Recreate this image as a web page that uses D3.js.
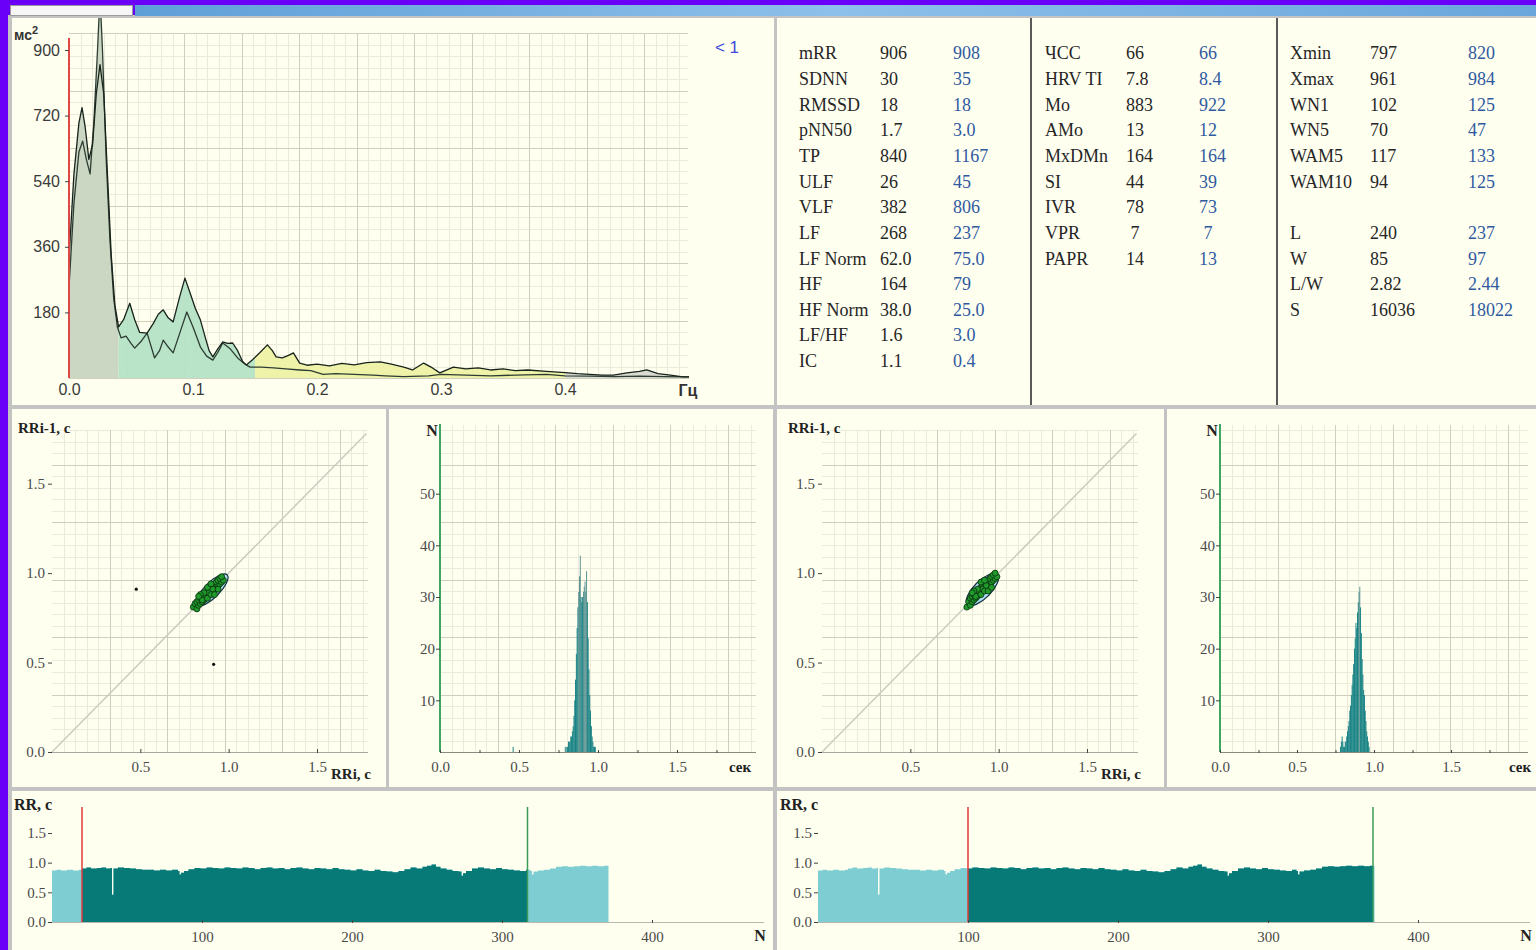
<!DOCTYPE html>
<html><head><meta charset="utf-8">
<script src="https://cdn.jsdelivr.net/npm/d3@7"></script>
<style>body{margin:0;background:#6a00f8;overflow:hidden}svg{display:block}</style>
</head><body><svg id="c" width="1536" height="950"></svg>
<script>
// ---------------- DATA ----------------
// Spectrum, record 1 (frequency Hz, power ms^2)
const specFreq1 = [0,0.004,0.008,0.0105,0.013,0.016,0.019,0.022,0.025,0.028,0.031,0.034,0.037,0.040,0.044,0.049,0.053,0.057,0.063,0.068,0.072,0.076,0.080,0.084,0.089,0.0935,0.098,0.102,0.106,0.110,0.113,0.116,0.120,0.124,0.128,0.132,0.136,0.140,0.143,0.148,0.154,0.160,0.164,0.167,0.172,0.177,0.181,0.186,0.192,0.200,0.210,0.220,0.230,0.240,0.251,0.260,0.270,0.277,0.286,0.292,0.299,0.310,0.320,0.330,0.340,0.350,0.360,0.370,0.385,0.400,0.410,0.420,0.430,0.439,0.450,0.460,0.466,0.475,0.485,0.495,0.5];
const specPow1  = [330,560,700,742,690,600,640,780,860,780,560,340,200,140,160,205,160,125,123,150,175,187,165,154,220,274,230,190,159,110,75,58,80,99,95,96,75,45,36,50,70,91,75,58,55,62,69,41,35,38,33,40,36,42,44,38,30,22,41,30,14,30,25,28,22,25,20,22,18,15,12,10,8,8,14,18,22,12,8,3,3];
// Spectrum, record 2
const specFreq2 = [0,0.004,0.008,0.011,0.014,0.017,0.020,0.023,0.025,0.027,0.030,0.033,0.036,0.039,0.042,0.046,0.050,0.053,0.058,0.063,0.069,0.073,0.076,0.080,0.084,0.090,0.095,0.100,0.106,0.111,0.116,0.120,0.124,0.130,0.136,0.142,0.146,0.155,0.165,0.175,0.186,0.195,0.205,0.215,0.230,0.245,0.255,0.270,0.290,0.300,0.320,0.340,0.360,0.385,0.400,0.420,0.440,0.460,0.480,0.500];
const specPow2  = [250,480,620,650,600,560,700,900,1050,900,600,380,220,140,110,115,95,82,100,123,55,75,104,85,69,130,181,140,85,60,49,70,96,80,55,38,30,30,28,25,22,20,10,12,10,8,6,4,6,10,8,6,8,10,6,5,4,5,4,3];
const bandEdges  = [0, 0.04, 0.15, 0.4, 0.5];
const bandColors = ['#c8d5c0', '#b5e3c5', '#eef1a4', '#d8dacf'];
const specYTicks = [180, 360, 540, 720, 900];
const specXTicks = [0, 0.1, 0.2, 0.3, 0.4];

// Table of indices
const tableLabels1 = ['mRR','SDNN','RMSSD','pNN50','TP','ULF','VLF','LF','LF Norm','HF','HF Norm','LF/HF','IC'];
const tableRec1a   = ['906','30','18','1.7','840','26','382','268','62.0','164','38.0','1.6','1.1'];
const tableRec2a   = ['908','35','18','3.0','1167','45','806','237','75.0','79','25.0','3.0','0.4'];
const tableLabels2 = ['ЧСС','HRV TI','Mo','AMo','MxDMn','SI','IVR','VPR','PAPR'];
const tableRec1b   = ['66','7.8','883','13','164','44','78',' 7','14'];
const tableRec2b   = ['66','8.4','922','12','164','39','73',' 7','13'];
const tableLabels3 = ['Xmin','Xmax','WN1','WN5','WAM5','WAM10','','L','W','L/W','S'];
const tableRec1c   = ['797','961','102','70','117','94','','240','85','2.82','16036'];
const tableRec2c   = ['820','984','125','47','133','125','','237','97','2.44','18022'];

// RR interval series (beat number, seconds) – one recording, two analysis windows
const rrBeat  = [0,3,6,10,14,18,20,23,26,30,33,36,39,40,41,44,48,52,56,60,64,68,72,76,80,84,85,86,88,91,95,99,103,107,111,115,119,123,127,131,135,139,143,147,151,155,159,163,167,171,175,179,183,187,191,195,199,203,207,211,215,219,223,227,231,235,239,243,247,250,253,256,259,263,267,271,273,274,276,280,284,288,292,296,300,304,308,312,316,319,320,321,324,328,332,336,340,344,348,352,356,360,364,368,371];
const rrValue = [0.87,0.88,0.87,0.88,0.87,0.88,0.90,0.92,0.90,0.91,0.92,0.90,0.91,0.46,0.90,0.92,0.91,0.90,0.89,0.88,0.88,0.87,0.88,0.87,0.88,0.86,0.80,0.83,0.86,0.89,0.91,0.90,0.92,0.91,0.90,0.92,0.91,0.90,0.92,0.91,0.89,0.91,0.92,0.90,0.91,0.89,0.91,0.92,0.90,0.89,0.91,0.90,0.89,0.91,0.89,0.88,0.87,0.89,0.87,0.86,0.88,0.86,0.85,0.84,0.86,0.89,0.92,0.90,0.93,0.95,0.97,0.93,0.90,0.88,0.86,0.85,0.78,0.82,0.86,0.90,0.92,0.90,0.89,0.91,0.89,0.88,0.87,0.86,0.88,0.86,0.80,0.85,0.87,0.88,0.90,0.93,0.94,0.93,0.94,0.95,0.94,0.95,0.94,0.95,0.95];
const window1 = [20, 317];
const window2 = [100, 370];
const rrYTicks = [0, 0.5, 1.0, 1.5];
const rrXTicks = [100, 200, 300, 400];

// Histograms of RR (bin start s, count), bin width 0.005 s
const histBin1   = [0.460,0.790,0.795,0.800,0.805,0.810,0.815,0.820,0.825,0.830,0.835,0.840,0.845,0.850,0.855,0.860,0.865,0.870,0.875,0.880,0.885,0.890,0.895,0.900,0.905,0.910,0.915,0.920,0.925,0.930,0.935,0.940,0.945,0.950,0.955,0.960,0.965,0.970,0.975,0.980];
const histCount1 = [1,1,0,1,1,2,2,2,3,3,4,5,7,10,14,19,24,28,31,34,38,30,29,30,31,32,33,31,35,29,22,16,11,8,5,3,2,1,1,1];
const histBin2   = [0.780,0.785,0.790,0.795,0.800,0.805,0.810,0.815,0.820,0.825,0.830,0.835,0.840,0.845,0.850,0.855,0.860,0.865,0.870,0.875,0.880,0.885,0.890,0.895,0.900,0.905,0.910,0.915,0.920,0.925,0.930,0.935,0.940,0.945,0.950,0.955,0.960,0.965];
const histCount2 = [1,2,3,2,1,1,2,2,3,4,5,6,8,9,11,13,15,17,20,22,25,24,27,29,31,32,28,23,18,15,12,11,8,6,4,3,2,1];
const histYTicks = [10, 20, 30, 40, 50];
const histXTicks = [0, 0.25, 0.5, 0.75, 1.0, 1.25, 1.5, 1.75];

// Poincaré scatter (RRi, RRi-1) in seconds
const poincare1 = [[0.80,0.81],[0.81,0.83],[0.82,0.80],[0.83,0.82],[0.82,0.84],[0.84,0.83],[0.83,0.85],[0.85,0.84],[0.84,0.86],[0.86,0.85],[0.85,0.87],[0.87,0.86],[0.86,0.88],[0.88,0.87],[0.87,0.89],[0.89,0.88],[0.88,0.90],[0.90,0.89],[0.89,0.91],[0.91,0.90],[0.90,0.92],[0.92,0.91],[0.91,0.93],[0.93,0.92],[0.92,0.94],[0.94,0.93],[0.93,0.95],[0.95,0.94],[0.94,0.96],[0.96,0.95],[0.95,0.97],[0.97,0.96],[0.96,0.98],[0.87,0.87],[0.89,0.89],[0.91,0.91],[0.85,0.85],[0.88,0.86],[0.90,0.88],[0.86,0.89],[0.84,0.88],[0.92,0.88],[0.88,0.92],[0.94,0.91],[0.83,0.87],[0.90,0.94]];
const outliers1 = [[0.477,0.91],[0.915,0.49]];
const poincare2 = [[0.82,0.81],[0.83,0.84],[0.84,0.82],[0.85,0.84],[0.84,0.86],[0.86,0.85],[0.85,0.87],[0.87,0.86],[0.86,0.88],[0.88,0.87],[0.87,0.89],[0.89,0.88],[0.88,0.90],[0.90,0.89],[0.89,0.91],[0.91,0.90],[0.90,0.92],[0.92,0.91],[0.91,0.93],[0.93,0.92],[0.92,0.94],[0.94,0.93],[0.93,0.95],[0.95,0.94],[0.94,0.96],[0.96,0.95],[0.95,0.97],[0.97,0.96],[0.96,0.98],[0.98,0.97],[0.97,0.99],[0.99,0.98],[0.98,1.0],[0.89,0.89],[0.91,0.91],[0.93,0.93],[0.87,0.87],[0.90,0.88],[0.92,0.90],[0.88,0.91],[0.86,0.90],[0.94,0.90],[0.90,0.95],[0.96,0.92],[0.85,0.89],[0.92,0.96]];
const poiTicks = [0.5, 1.0, 1.5];
const poiYTicks = [0, 0.5, 1.0, 1.5];

// ---------------- DRAWING ----------------
const SANS = "'Liberation Sans', Arial, sans-serif";
const SERIF = "'Liberation Serif', 'Times New Roman', serif";
const IVORY = '#fffff0';
const svg = d3.select('#c');
const defs = svg.append('defs');

svg.append('rect').attr('width',1536).attr('height',950).attr('fill','#6a00f8');
svg.append('rect').attr('x',8).attr('y',15).attr('width',1528).attr('height',935).attr('fill','#c3c3c3');
const grad = defs.append('linearGradient').attr('id','tb').attr('x1',0).attr('x2',1);
grad.append('stop').attr('offset',0).attr('stop-color','#5f9fd8');
grad.append('stop').attr('offset',0.5).attr('stop-color','#8dc0ea');
grad.append('stop').attr('offset',1).attr('stop-color','#6aa6dc');
svg.append('rect').attr('x',135).attr('y',5).attr('width',1401).attr('height',11).attr('fill','url(#tb)');
svg.append('rect').attr('x',10.5).attr('y',5.5).attr('width',122).attr('height',10).attr('fill','#f6f6f6').attr('stroke','#9a9a9a');

const panels = [[12,18,762,387],[777,18,759,387],[12,409,374,378],[389,409,384,378],[777,409,387,378],[1167,409,369,378],[12,791,761,159],[777,791,759,159]];
svg.selectAll('rect.panel').data(panels).join('rect').attr('class','panel')
  .attr('x',d=>d[0]).attr('y',d=>d[1]).attr('width',d=>d[2]).attr('height',d=>d[3]).attr('fill',IVORY);

function grid(g, x0, x1, yT, yB){
  const step = 57.5, m = step/5;
  const minors = g.append('g').attr('stroke','#ecebd9').attr('stroke-width',1);
  const majors = g.append('g').attr('stroke','#cfcfbd').attr('stroke-width',1);
  for(let k=1; x0+k*m<=x1+0.5; k++){
    const x = Math.round(x0+k*m)+0.5;
    (k%5===0?majors:minors).append('line').attr('x1',x).attr('x2',x).attr('y1',yT).attr('y2',yB);
  }
  for(let k=1; yB-k*m>=yT-0.5; k++){
    const y = Math.round(yB-k*m)+0.5;
    (k%5===0?majors:minors).append('line').attr('x1',x0).attr('x2',x1).attr('y1',y).attr('y2',y);
  }
}
function styleAxis(g, font, size, color){
  g.select('.domain').remove();
  g.selectAll('text').attr('font-family',font).attr('font-size',size).attr('fill',color);
  g.selectAll('line').attr('stroke','#444');
}

// ---- Spectrum ----
{
  const g = svg.append('g');
  const x = d3.scaleLinear([0,0.5],[69,689]);
  const y = d3.scaleLinear([0,900],[378,50]);
  grid(g, 69, 688, 33, 378);
  g.append('line').attr('x1',69).attr('x2',689).attr('y1',378.5).attr('y2',378.5).attr('stroke','#cfcfbd');
  defs.append('clipPath').attr('id','specClip').append('rect').attr('x',69).attr('y',18).attr('width',620).attr('height',360);
  const recs = [d3.zip(specFreq1,specPow1), d3.zip(specFreq2,specPow2)];
  // upper envelope of both spectra (linear interpolation at every measured frequency)
  const interp = (r,f)=>{ const i = d3.bisector(d=>d[0]).right(r,f); if(i<=0) return r[0][1]; if(i>=r.length) return r[r.length-1][1];
    const a=r[i-1], b=r[i]; return a[1]+(b[1]-a[1])*(f-a[0])/(b[0]-a[0]); };
  const freqs = Array.from(new Set(specFreq1.concat(specFreq2))).sort((a,b)=>a-b);
  const env = freqs.map(f=>[f, Math.max(interp(recs[0],f), interp(recs[1],f))]);
  const area = d3.area().x(d=>x(d[0])).y0(y(0)).y1(d=>y(d[1]));
  const line = d3.line().x(d=>x(d[0])).y(d=>y(d[1]));
  const plot = g.append('g').attr('clip-path','url(#specClip)');
  bandColors.forEach((c,i)=>{
    const id='band'+i;
    defs.append('clipPath').attr('id',id).append('rect')
      .attr('x',x(bandEdges[i])).attr('y',0).attr('width',x(bandEdges[i+1])-x(bandEdges[i])).attr('height',400);
    plot.append('path').attr('clip-path','url(#'+id+')').attr('d',area(env)).attr('fill',c).attr('opacity',0.95);
  });
  plot.append('path').attr('d',line(recs[1])).attr('fill','none').attr('stroke','#2d3d33').attr('stroke-width',1.3).attr('stroke-linejoin','round');
  plot.append('path').attr('d',line(recs[0])).attr('fill','none').attr('stroke','#17231b').attr('stroke-width',1.3).attr('stroke-linejoin','round');
  g.append('line').attr('x1',x(0)).attr('x2',x(0)).attr('y1',38).attr('y2',378).attr('stroke','#e04848').attr('stroke-width',2);
  const ya = g.append('g').attr('transform','translate(69,0)')
    .call(d3.axisLeft(y).tickValues(specYTicks).tickSize(4).tickPadding(5).tickFormat(d3.format('d')));
  styleAxis(ya, SANS, 16, '#3a3a3a');
  const xa = g.append('g').attr('transform','translate(0,378)')
    .call(d3.axisBottom(x).tickValues(specXTicks).tickSize(0).tickPadding(6).tickFormat(d3.format('.1f')));
  styleAxis(xa, SANS, 16, '#3a3a3a');
  g.append('text').attr('x',14).attr('y',40).attr('font-family',SANS).attr('font-size',14).attr('font-weight','bold').attr('fill','#333')
    .text('мс').append('tspan').attr('dy',-6).attr('font-size',11).text('2');
  g.append('text').attr('x',688).attr('y',396).attr('text-anchor','middle').attr('font-family',SANS).attr('font-size',16).attr('font-weight','bold').attr('fill','#333').text('Гц');
  g.append('text').attr('x',727).attr('y',53).attr('text-anchor','middle').attr('font-family',SANS).attr('font-size',17).attr('fill','#3b4ad8').text('< 1');
}

// ---- Table ----
{
  const g = svg.append('g').attr('font-family',SERIF).attr('font-size',18);
  const blocks = [
    [tableLabels1, tableRec1a, tableRec2a, 799, 880, 953],
    [tableLabels2, tableRec1b, tableRec2b, 1045, 1126, 1199],
    [tableLabels3, tableRec1c, tableRec2c, 1290, 1370, 1468]
  ];
  blocks.forEach(([labs,a,b,x0,x1,x2])=>{
    labs.forEach((lab,i)=>{
      const yy = 53 + i*25.65;
      g.append('text').attr('x',x0).attr('y',yy).attr('dy','0.35em').attr('fill','#262626').text(lab);
      g.append('text').attr('x',x1).attr('y',yy).attr('dy','0.35em').attr('fill','#262626').attr('xml:space','preserve').text(a[i]);
      g.append('text').attr('x',x2).attr('y',yy).attr('dy','0.35em').attr('fill','#2f5aa0').attr('xml:space','preserve').text(b[i]);
    });
  });
  [1031, 1277].forEach(xx=>svg.append('line').attr('x1',xx).attr('x2',xx).attr('y1',18).attr('y2',405).attr('stroke','#5a5a5a').attr('stroke-width',2));
}

// ---- Poincaré ----
function poincare(x0, pts, outl, rec){
  const g = svg.append('g');
  const x = d3.scaleLinear([0,1.8],[x0, x0+318]);
  const y = d3.scaleLinear([0,1.8],[752, 430]);
  grid(g, x0, x0+316, 430, 752);
  g.append('line').attr('x1',x0).attr('x2',x0+316).attr('y1',752.5).attr('y2',752.5).attr('stroke','#a8a8a0');
  g.append('line').attr('x1',x(0)).attr('y1',y(0)).attr('x2',x(1.78)).attr('y2',y(1.78)).attr('stroke','#cbcbc0').attr('stroke-width',1.5);
  const li = tableLabels3.indexOf('L'), wi = tableLabels3.indexOf('W');
  const L = +rec.c[li]/1000, Wd = +rec.c[wi]/1000, m = +rec.a[0]/1000;
  const k = ((x(1)-x(0)) + (y(0)-y(1)))/2;
  g.append('ellipse').attr('transform',`translate(${x(m)},${y(m)}) rotate(-45)`)
    .attr('rx',L/2*k).attr('ry',Wd/2*k).attr('fill','#a9dcf0').attr('stroke','#12303a').attr('stroke-width',1.2);
  g.selectAll('circle.p').data(pts).join('circle').attr('class','p')
    .attr('cx',d=>x(d[0])).attr('cy',d=>y(d[1])).attr('r',3).attr('fill','#1f9a2b').attr('stroke','#0a2e0e').attr('stroke-width',0.8);
  g.selectAll('circle.o').data(outl).join('circle').attr('class','o')
    .attr('cx',d=>x(d[0])).attr('cy',d=>y(d[1])).attr('r',1.6).attr('fill','#111');
  const ya = g.append('g').attr('transform',`translate(${x0},0)`)
    .call(d3.axisLeft(y).tickValues(poiYTicks).tickSize(4).tickPadding(3).tickFormat(d3.format('.1f')));
  styleAxis(ya, SERIF, 15, '#4a4a4a');
  const xa = g.append('g').attr('transform','translate(0,752)')
    .call(d3.axisBottom(x).tickValues(poiTicks).tickSize(4).tickPadding(5).tickFormat(d3.format('.1f')));
  styleAxis(xa, SERIF, 15, '#4a4a4a');
  xa.selectAll('line').attr('transform','translate(0,-3)');
  g.append('text').attr('x',x0-34).attr('y',433).attr('font-family',SERIF).attr('font-size',15).attr('font-weight','bold').attr('fill','#222').text('RRi-1, с');
  g.append('text').attr('x',x0+279).attr('y',779).attr('font-family',SERIF).attr('font-size',15).attr('font-weight','bold').attr('fill','#222').text('RRi, с');
}
poincare(52, poincare1, outliers1, {a:tableRec1a, c:tableRec1c});
poincare(822, poincare2, [], {a:tableRec2a, c:tableRec2c});

// ---- Histograms ----
function histogram(x0, x1, bins, counts){
  const g = svg.append('g');
  const x = d3.scaleLinear([0,2.0],[x0, x1]);
  const y = d3.scaleLinear([0,60],[752, 442]);
  grid(g, x0, x1, 425, 752);
  g.append('line').attr('x1',x0).attr('x2',x1).attr('y1',752.5).attr('y2',752.5).attr('stroke','#8a8a80');
  const data = d3.zip(bins, counts);
  g.selectAll('rect.b').data(data).join('rect').attr('class','b')
    .attr('x',d=>x(d[0])).attr('width',d=>Math.max(0.9, x(d[0]+0.005)-x(d[0])))
    .attr('y',d=>y(d[1])).attr('height',d=>y(0)-y(d[1]))
    .attr('fill',d=>d[1]>30?'#4f8c8c':'#0a7b7e');
  g.append('line').attr('x1',x0).attr('x2',x0).attr('y1',424).attr('y2',752).attr('stroke','#3fa562').attr('stroke-width',2);
  const ya = g.append('g').attr('transform',`translate(${x0},0)`)
    .call(d3.axisLeft(y).tickValues(histYTicks).tickSize(4).tickPadding(1).tickFormat(d3.format('d')));
  styleAxis(ya, SERIF, 15, '#4a4a4a');
  const xa = g.append('g').attr('transform','translate(0,752)')
    .call(d3.axisBottom(x).tickValues(histXTicks).tickSize(3).tickPadding(6)
      .tickFormat(d=>([0,0.5,1.0,1.5].includes(d)? d3.format('.1f')(d):'')));
  styleAxis(xa, SERIF, 15, '#4a4a4a');
  xa.selectAll('line').attr('transform','translate(0,-2)');
  g.append('text').attr('x',x0-8).attr('y',436).attr('text-anchor','middle').attr('font-family',SERIF).attr('font-size',16).attr('font-weight','bold').attr('fill','#222').text('N');
  g.append('text').attr('x',x0+300).attr('y',772).attr('text-anchor','middle').attr('font-family',SERIF).attr('font-size',15).attr('font-weight','bold').attr('fill','#222').text('сек');
}
histogram(440, 756, histBin1, histCount1);
histogram(1220, 1528, histBin2, histCount2);

// ---- RR series ----
function rrChart(x0, win, idx){
  const g = svg.append('g');
  const x = d3.scaleLinear([0,100],[x0, x0+150]);
  const y = d3.scaleLinear([0,1.5],[922, 833]);
  const data = d3.zip(rrBeat, rrValue);
  const area = d3.area().x(d=>x(d[0])).y0(y(0)).y1(d=>y(d[1])).curve(d3.curveStepAfter);
  g.append('path').attr('d',area(data)).attr('fill','#7dcdd2');
  const cid = 'rrw'+idx;
  defs.append('clipPath').attr('id',cid).append('rect').attr('x',x(win[0])).attr('y',790).attr('width',x(win[1])-x(win[0])).attr('height',140);
  g.append('path').attr('d',area(data)).attr('fill','#077a77').attr('clip-path','url(#'+cid+')');
  g.append('line').attr('x1',x0).attr('x2',x0+712).attr('y1',922.5).attr('y2',922.5).attr('stroke','#b8b8b0');
  g.append('line').attr('x1',x(win[0])).attr('x2',x(win[0])).attr('y1',807).attr('y2',922).attr('stroke','#e03a3a').attr('stroke-width',1.5);
  g.append('line').attr('x1',x(win[1])).attr('x2',x(win[1])).attr('y1',807).attr('y2',922).attr('stroke','#3a9a5a').attr('stroke-width',1.5);
  const ya = g.append('g').attr('transform',`translate(${x0},0)`)
    .call(d3.axisLeft(y).tickValues(rrYTicks).tickSize(4).tickPadding(2).tickFormat(d3.format('.1f')));
  styleAxis(ya, SERIF, 15, '#4a4a4a');
  const xa = g.append('g').attr('transform','translate(0,922)')
    .call(d3.axisBottom(x).tickValues(rrXTicks).tickSize(3).tickPadding(6).tickFormat(d3.format('d')));
  styleAxis(xa, SERIF, 15, '#4a4a4a');
  xa.selectAll('line').attr('transform','translate(0,-2)');
  g.append('text').attr('x',x0-38).attr('y',810).attr('font-family',SERIF).attr('font-size',16).attr('font-weight','bold').attr('fill','#222').text('RR, с');
  g.append('text').attr('x',x0+708).attr('y',941).attr('text-anchor','middle').attr('font-family',SERIF).attr('font-size',16).attr('font-weight','bold').attr('fill','#222').text('N');
}
rrChart(52, window1, 1);
rrChart(818, window2, 2);
</script>
</body></html>
